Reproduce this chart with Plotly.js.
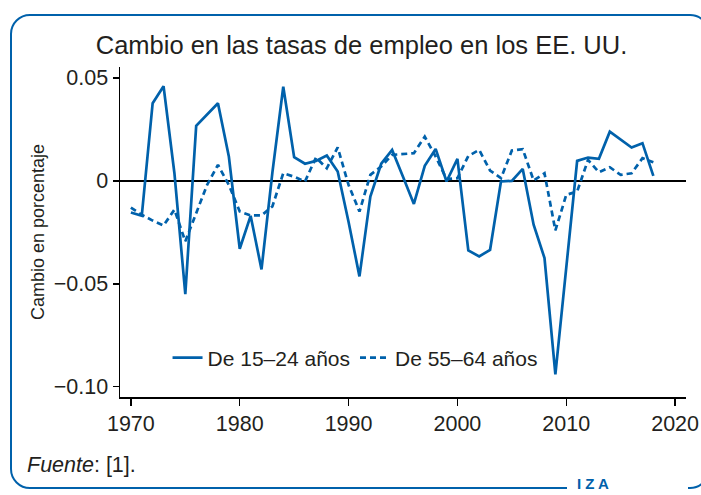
<!DOCTYPE html>
<html>
<head>
<meta charset="utf-8">
<script src="https://cdn.plot.ly/plotly-3.0.1.min.js"></script>
<style>
  html, body { margin: 0; padding: 0; background: #fff; }
  #wrap { position: relative; width: 701px; height: 495px; overflow: hidden; }
  #frame { position: absolute; left: 10px; top: 14px; width: 700px; height: 475px;
           border: 2.5px solid #0061ab; border-radius: 20px; box-sizing: border-box; }
  #chart { position: absolute; left: 0; top: 0; width: 701px; height: 495px; }
</style>
</head>
<body>
<div id="wrap">
  <div id="frame"></div>
  <div id="chart"></div>
</div>
<script>
const years = [1970,1971,1972,1973,1974,1975,1976,1977,1978,1979,
               1980,1981,1982,1983,1984,1985,1986,1987,1988,1989,
               1990,1991,1992,1993,1994,1995,1996,1997,1998,1999,
               2000,2001,2002,2003,2004,2005,2006,2007,2008,2009,
               2010,2011,2012,2013,2014,2015,2016,2017,2018];

const age15to24 = [-0.0154,-0.0170,0.0377,0.0460,0.0037,-0.0550,0.0267,0.0320,0.0377,0.0118,
                   -0.0330,-0.0170,-0.0430,0.0040,0.0457,0.0115,0.0083,0.0097,0.0123,0.0045,
                   -0.0200,-0.0464,-0.0076,0.0083,0.0150,0.0020,-0.0112,0.0073,0.0155,-0.0003,
                   0.0107,-0.0338,-0.0367,-0.0335,-0.0003,0.0000,0.0058,-0.0213,-0.0375,-0.0940,
                   -0.0430,0.0097,0.0113,0.0107,0.0239,0.0200,0.0162,0.0183,0.0024];

const age55to64 = [-0.0130,-0.0165,-0.0193,-0.0217,-0.0140,-0.0294,-0.0157,-0.0020,0.0078,-0.0020,
                   -0.0149,-0.0168,-0.0168,-0.0124,0.0037,0.0020,-0.0003,0.0113,0.0061,0.0163,
                   -0.0020,-0.0149,0.0029,0.0070,0.0126,0.0130,0.0134,0.0215,0.0118,0.0008,
                   0.0013,0.0121,0.0150,0.0050,0.0013,0.0147,0.0154,0.0002,0.0037,-0.0241,
                   -0.0068,-0.0052,0.0102,0.0042,0.0066,0.0029,0.0037,0.0110,0.0090];

const seriesNames = ["De 15–24 años", "De 55–64 años"];
const yTickVals = [-0.10, -0.05, 0, 0.05];
const yTickText = ["−0.10", "−0.05", "0", "0.05"];
const xTickVals = [1970, 1980, 1990, 2000, 2010, 2020];

const FONT = "'Liberation Sans', Arial, sans-serif";
const BLUE = "#0061ab";
const TXT = "#231f20";

const traces = [
  { x: years, y: age15to24, name: seriesNames[0], type: "scatter", mode: "lines",
    line: { color: BLUE, width: 2.7 } },
  { x: years, y: age55to64, name: seriesNames[1], type: "scatter", mode: "lines",
    line: { color: BLUE, width: 2.7, dash: "6px,4px" } }
];

const layout = {
  width: 701, height: 495,
  paper_bgcolor: "rgba(0,0,0,0)", plot_bgcolor: "rgba(0,0,0,0)",
  margin: { l: 120, r: 15, t: 67, b: 98 },
  font: { family: FONT, color: TXT, size: 21 },
  title: { text: "Cambio en las tasas de empleo en los EE. UU.",
           font: { family: FONT, size: 25.5, color: TXT },
           xref: "container", x: 0.5157, xanchor: "center",
           yref: "container", y: 1 - 45/495, yanchor: "middle" },
  xaxis: { range: [1969, 2021], tickvals: xTickVals, ticks: "outside", ticklen: 7,
           tickwidth: 1.5, tickcolor: "#000", showline: true, linecolor: "#000", linewidth: 1.5,
           showgrid: false, zeroline: false, tickfont: { size: 21.5, family: FONT, color: TXT } },
  yaxis: { range: [-0.105, 0.0553], tickvals: yTickVals, ticktext: yTickText, ticks: "outside",
           ticklen: 6, tickwidth: 1.5, tickcolor: "#000", showline: true, linecolor: "#000",
           linewidth: 1.5, showgrid: false, zeroline: true, zerolinecolor: "#000", zerolinewidth: 1.5,
           tickfont: { size: 21.5, family: FONT, color: TXT },
           title: { text: "Cambio en porcentaje", font: { size: 18, family: FONT, color: TXT }, standoff: 4 } },
  showlegend: true,
  legend: { orientation: "h", x: 0.084, xanchor: "left", y: 0.118, yanchor: "middle",
            font: { size: 21, family: FONT, color: TXT }, bgcolor: "rgba(0,0,0,0)",
            itemwidth: 30, tracegroupgap: 0 },
  shapes: [
    { type: "rect", xref: "paper", yref: "paper",
      x0: (567-120)/566, x1: (688-120)/566, y0: -(486-397)/330, y1: -(500-397)/330,
      fillcolor: "#fff", line: { width: 0 }, layer: "above" }
  ],
  annotations: [
    { xref: "paper", yref: "paper", x: -(120-25)/566, y: -(465-397)/330,
      xanchor: "left", yanchor: "middle", showarrow: false,
      text: "<i>Fuente</i>: [1].", font: { size: 21.5, family: FONT, color: TXT } },
    { xref: "paper", yref: "paper", x: (575-120)/566, y: -(483-397)/330,
      xanchor: "left", yanchor: "middle", showarrow: false,
      text: "<b>I Z A</b>", font: { size: 15, family: FONT, color: BLUE } }
  ]
};

Plotly.newPlot("chart", traces, layout, { displayModeBar: false, staticPlot: true });
</script>
</body>
</html>
